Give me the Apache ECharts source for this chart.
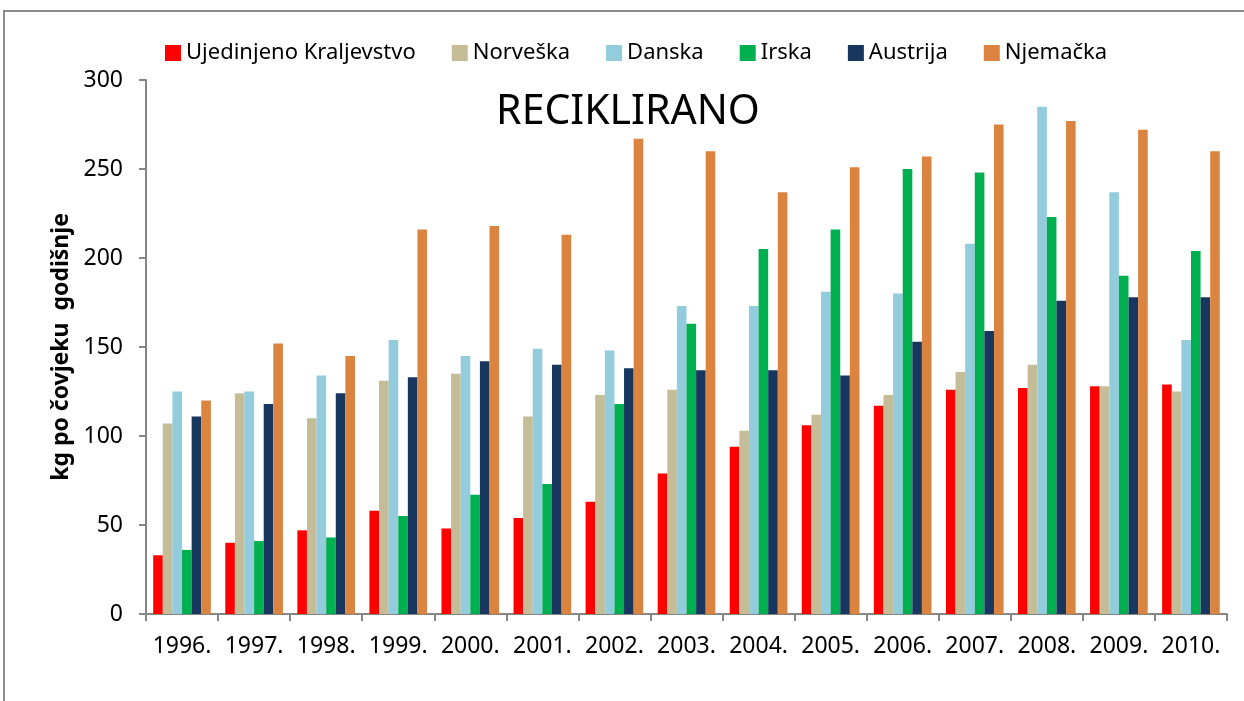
<!DOCTYPE html>
<html>
<head>
<meta charset="utf-8">
<script src="https://cdn.jsdelivr.net/npm/echarts@6/dist/echarts.min.js"></script>
<style>
  html, body { margin: 0; padding: 0; background: #fff; }
  #chart { width: 1244px; height: 701px; }
</style>
</head>
<body>
<div id="chart"></div>
<script>
const years = ['1996.', '1997.', '1998.', '1999.', '2000.', '2001.', '2002.', '2003.',
  '2004.', '2005.', '2006.', '2007.', '2008.', '2009.', '2010.'];

const ujedinjenoKraljevstvo = [33, 40, 47, 58, 48, 54, 63, 79, 94, 106, 117, 126, 127, 128, 129];
const norveska = [107, 124, 110, 131, 135, 111, 123, 126, 103, 112, 123, 136, 140, 128, 125];
const danska = [125, 125, 134, 154, 145, 149, 148, 173, 173, 181, 180, 208, 285, 237, 154];
const irska = [36, 41, 43, 55, 67, 73, 118, 163, 205, 216, 250, 248, 223, 190, 204];
const austrija = [111, 118, 124, 133, 142, 140, 138, 137, 137, 134, 153, 159, 176, 178, 178];
const njemacka = [120, 152, 145, 216, 218, 213, 267, 260, 237, 251, 257, 275, 277, 272, 260];

const yTicks = [0, 50, 100, 150, 200, 250, 300];

const seriesDefs = [
  { name: 'Ujedinjeno Kraljevstvo', data: ujedinjenoKraljevstvo, color: '#FF0000' },
  { name: 'Norveška', data: norveska, color: '#C4BD97' },
  { name: 'Danska', data: danska, color: '#93CDDD' },
  { name: 'Irska', data: irska, color: '#00B050' },
  { name: 'Austrija', data: austrija, color: '#17375E' },
  { name: 'Njemačka', data: njemacka, color: '#DB8440' },
];

const font = '"Noto Sans", sans-serif';

const chart = echarts.init(document.getElementById('chart'));
chart.setOption({
  animation: false,
  backgroundColor: '#fff',
  textStyle: { fontFamily: font },
  graphic: [{
    type: 'rect',
    shape: { x: 4, y: 11, width: 1300, height: 800 },
    style: { fill: 'none', stroke: '#8c8c8c', lineWidth: 2 },
    silent: true,
    z: -1
  }],
  title: {
    text: 'RECIKLIRANO',
    left: 623,
    top: 87,
    textAlign: 'center',
    textStyle: { fontFamily: font, fontSize: 41, fontWeight: 'normal', color: '#000' }
  },
  legend: {
    top: 37,
    left: 160,
    itemWidth: 16,
    itemHeight: 16,
    itemGap: 36,
    icon: 'rect',
    textStyle: { fontFamily: font, fontSize: 22, color: '#000' },
    data: seriesDefs.map(s => s.name)
  },
  grid: { left: 146, right: 17, top: 80, bottom: 87 },
  xAxis: {
    type: 'category',
    data: years,
    axisLine: { lineStyle: { color: '#868686', width: 2 } },
    axisTick: { show: true, interval: 0, length: 7, lineStyle: { color: '#868686', width: 2 } },
    axisLabel: { interval: 0, fontFamily: font, fontSize: 23, color: '#000', margin: 21 }
  },
  yAxis: {
    type: 'value',
    min: yTicks[0],
    max: yTicks[yTicks.length - 1],
    interval: 50,
    name: 'kg po čovjeku  godišnje',
    nameLocation: 'middle',
    nameRotate: 90,
    nameGap: 70,
    nameTextStyle: { fontFamily: font, fontSize: 23, fontWeight: 'bold', color: '#000' },
    axisLine: { show: true, lineStyle: { color: '#868686', width: 2 } },
    axisTick: { show: true, length: 7, lineStyle: { color: '#868686', width: 2 } },
    splitLine: { show: false },
    axisLabel: { fontFamily: font, fontSize: 23, color: '#000', margin: 23 }
  },
  series: seriesDefs.map(s => ({
    name: s.name,
    type: 'bar',
    data: s.data,
    barGap: '0%',
    barCategoryGap: '20%',
    itemStyle: { color: s.color }
  }))
});
</script>
</body>
</html>
